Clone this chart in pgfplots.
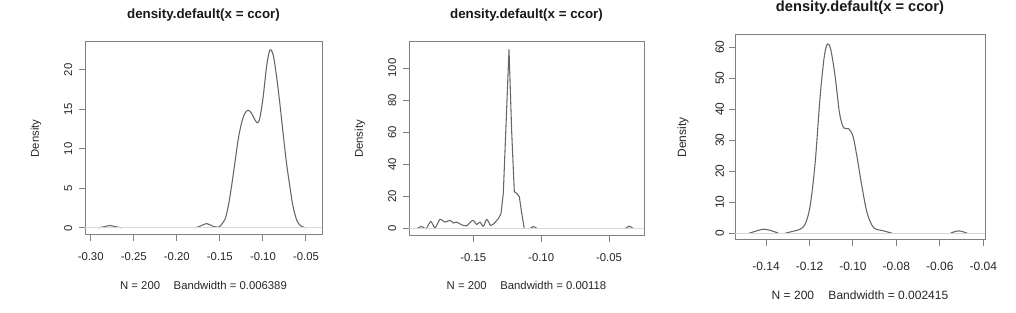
\documentclass[border=0pt]{standalone}
\usepackage{pgfplots}
\pgfplotsset{compat=1.18}
\usepackage{fontspec}
\setmainfont{Liberation Sans}

\pgfplotstableread{
x y
-0.2912 0
-0.2834 0.17
-0.2776 0.3
-0.2718 0.17
-0.264 0
}\pA
\pgfplotstableread{
x y
-0.179 0
-0.1732 0.2
-0.1654 0.55
-0.1578 0.2
-0.152 0.08
-0.150 0.2
-0.1442 1.05
-0.1403 2.7
-0.1364 5.3
-0.1326 8.2
-0.1287 11.2
-0.1248 13.3
-0.1210 14.5
-0.1171 14.9
-0.1132 14.5
-0.1094 13.7
-0.1063 13.3
-0.1036 13.9
-0.0997 16.6
-0.0958 20.4
-0.0920 22.5
-0.0881 21.9
-0.0842 19.2
-0.0804 15.8
-0.0766 12.0
-0.0726 8.2
-0.0688 5.3
-0.0650 2.7
-0.0603 0.85
-0.0552 0.2
-0.0494 0
}\pB
\pgfplotstableread{
x y
-0.1917 0
-0.1881 1.5
-0.1849 0
-0.1814 4.6
-0.1782 0.6
-0.1746 5.9
-0.1709 4.2
-0.1672 5.3
-0.1647 3.6
-0.1622 4.2
-0.1586 2.5
-0.1549 1.9
-0.1504 5.3
-0.1475 2.7
-0.1451 4.2
-0.1426 1.5
-0.1401 5.9
-0.1372 2.1
-0.1345 3.6
-0.1316 6.3
-0.1296 9.5
}\qA
\pgfplotstableread{
x y
-0.1296 9.5
-0.1279 22
-0.1261 60
-0.1237 111.5
-0.1217 60
-0.1198 23.2
-0.1180 22
-0.1161 20
-0.1143 9.5
-0.1124 0
}\qD
\pgfplotstableread{
x y
-0.1082 0
-0.1058 1.5
-0.1028 0
}\qB
\pgfplotstableread{
x y
-0.0381 0
-0.0350 1.7
-0.0320 0
}\qC
\pgfplotstableread{
x y
-0.1477 0
-0.1443 0.75
-0.1409 1.3
-0.1374 0.75
-0.1343 0
}\rA
\pgfplotstableread{
x y
-0.1312 0
-0.1282 0.5
-0.1243 1.3
-0.1220 2.9
-0.1197 8.8
-0.1174 22.7
-0.1151 44.2
-0.1132 57
-0.1117 61.1
-0.1102 59.2
-0.1082 50.6
-0.1062 38.8
-0.1043 34
-0.1020 33.7
-0.1000 31.3
-0.0982 24.9
-0.0959 15.2
-0.0935 6.6
-0.0905 1.8
-0.0859 0.75
-0.0820 0
}\rB
\pgfplotstableread{
x y
-0.0551 0
-0.0513 0.75
-0.0474 0
}\rC

\begin{document}
\begin{tikzpicture}
\useasboundingbox (0pt,0pt) rectangle (762pt,234.75pt);
\pgfplotsset{
  rstyle/.style={
    scale only axis,
    anchor=south west,
    axis line style={color=black!50, line width=0.75pt},
    tick style={color=black!50, line width=0.75pt},
    tick align=outside,
    major tick length=4.5pt,
    xtick pos=left, ytick pos=left,
    clip=true,
    ylabel={Density},
    xticklabel style={anchor=center, text=black!85},
    yticklabel style={rotate=90, anchor=center, text=black!85},
    xlabel style={anchor=center, text=black!85},
    ylabel style={anchor=center, text=black!85},
    title style={anchor=center, yshift=-6pt, text=black!90},
  },
  curve/.style={color=black!60, line width=0.8pt, line join=round},
  zline/.style={color=black!15, line width=0.75pt},
}
% Panel 1
\begin{axis}[rstyle,
  at={(63.75pt,58.5pt)}, width=177.75pt, height=144.75pt,
  xmin=-0.3066, xmax=-0.0314, ymin=-0.9, ymax=23.54,
  xtick={-0.30,-0.25,-0.20,-0.15,-0.10,-0.05},
  xticklabels={-0.30,-0.25,-0.20,-0.15,-0.10,-0.05},
  ytick={0,5,10,15,20}, yticklabels={0,5,10,15,20},
  xticklabel shift=12pt, yticklabel shift=8pt,
  ticklabel style={font=\fontsize{8.5}{10}\selectfont},
  label style={font=\fontsize{8.5}{10}\selectfont},
  title={density.default(x = ccor)},
  title style={font=\bfseries\fontsize{10}{12}\selectfont, at={(axis description cs:0.5,1.140)}},
  xlabel={N = 200\hspace{1.2em}Bandwidth = 0.006389},
  xlabel style={at={(axis description cs:0.5,-0.259)}},
  ylabel style={at={(axis description cs:-0.207,0.5)}},
]
\addplot[curve, smooth, tension=0.5] table {\pA};
\addplot[curve, smooth, tension=0.5] table {\pB};
\addplot[zline] coordinates {(-0.32,0) (-0.02,0)};
\end{axis}
% Panel 2
\begin{axis}[rstyle,
  at={(306.75pt,57.75pt)}, width=176.25pt, height=145.5pt,
  xmin=-0.1974, xmax=-0.0242, ymin=-4.46, ymax=116.2,
  xtick={-0.15,-0.10,-0.05},
  xticklabels={-0.15,-0.10,-0.05},
  ytick={0,20,40,60,80,100}, yticklabels={0,20,40,60,80,100},
  xticklabel shift=12pt, yticklabel shift=8pt,
  ticklabel style={font=\fontsize{8.5}{10}\selectfont},
  label style={font=\fontsize{8.5}{10}\selectfont},
  title={density.default(x = ccor)},
  title style={font=\bfseries\fontsize{10}{12}\selectfont, at={(axis description cs:0.5,1.139)}},
  xlabel={N = 200\hspace{1.2em}Bandwidth = 0.00118},
  xlabel style={at={(axis description cs:0.5,-0.253)}},
  ylabel style={at={(axis description cs:-0.209,0.5)}},
]
\addplot[curve, smooth, tension=0.4] table {\qA};
\addplot[curve] table {\qD};
\addplot[curve, smooth] table {\qB};
\addplot[curve, smooth] table {\qC};
\addplot[zline] coordinates {(-0.21,0) (-0.01,0)};
\end{axis}
% Panel 3
\begin{axis}[rstyle,
  at={(551.25pt,54.75pt)}, width=187.5pt, height=153.75pt,
  xmin=-0.1543, xmax=-0.0392, ymin=-2.2, ymax=63.95,
  xtick={-0.14,-0.12,-0.10,-0.08,-0.06,-0.04},
  xticklabels={-0.14,-0.12,-0.10,-0.08,-0.06,-0.04},
  ytick={0,10,20,30,40,50,60}, yticklabels={0,10,20,30,40,50,60},
  xticklabel shift=15pt, yticklabel shift=7pt,
  ticklabel style={font=\fontsize{9}{11}\selectfont},
  label style={font=\fontsize{9}{11}\selectfont},
  title={density.default(x = ccor)},
  title style={font=\bfseries\fontsize{11}{13}\selectfont, at={(axis description cs:0.5,1.132)}},
  xlabel={N = 200\hspace{1.2em}Bandwidth = 0.002415},
  xlabel style={at={(axis description cs:0.5,-0.268)}},
  ylabel style={at={(axis description cs:-0.208,0.5)}},
]
\addplot[curve, smooth, tension=0.5] table {\rA};
\addplot[curve, smooth, tension=0.5] table {\rB};
\addplot[curve, smooth, tension=0.5] table {\rC};
\addplot[zline] coordinates {(-0.16,0) (-0.03,0)};
\end{axis}
\end{tikzpicture}
\end{document}
